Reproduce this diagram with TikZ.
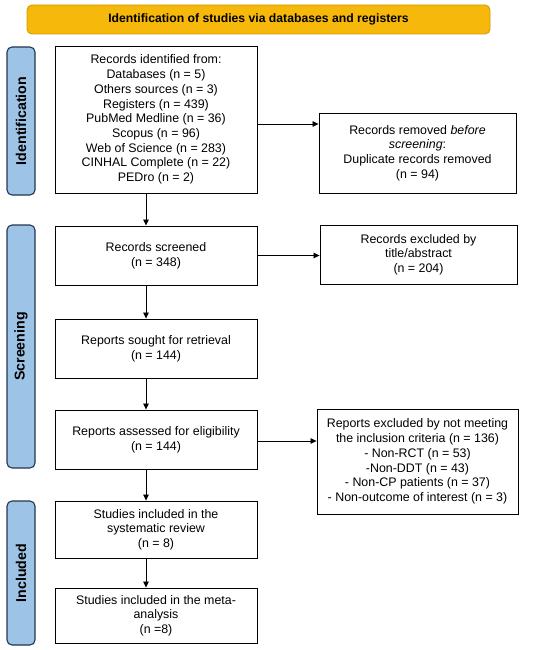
\documentclass[tikz,border=0pt]{standalone}
\usepackage{fontspec}
\setmainfont{Liberation Sans}
\usetikzlibrary{arrows.meta}
\definecolor{bannerfill}{HTML}{F6B80A}
\definecolor{bannerdraw}{HTML}{D29A00}
\definecolor{barfill}{HTML}{9DC3E6}
\definecolor{bardraw}{HTML}{22374F}
\tikzset{
  box/.style={draw, line width=0.9pt, align=center, inner sep=0pt,
    font=\fontsize{12.4}{14.7}\selectfont, minimum width=202pt},
  banner/.style={draw=bannerdraw, fill=bannerfill, line width=0.9pt, rounded corners=5pt,
    align=center, font=\bfseries\fontsize{12.2}{13}\selectfont, minimum width=463pt, minimum height=29pt},
  phase/.style={draw=bardraw, fill=barfill, line width=1.1pt, rounded corners=5pt,
    rotate=90, font=\bfseries\fontsize{14.2}{15}\selectfont, minimum height=28pt, inner sep=0pt},
  arr/.style={line width=0.8pt, -{Triangle[length=6pt,width=5.5pt]}}
}
\begin{document}
\begin{tikzpicture}[x=1pt,y=-1pt]
\useasboundingbox (0,0) rectangle (550,650);
\node[banner] (ban) at (258.5,19.5) {Identification of studies via databases and registers};
\node[phase, minimum width=148pt] (pid) at (21,121) {Identification};
\node[phase, minimum width=243pt] (psc) at (21,346.5) {Screening};
\node[phase, minimum width=144pt] (pin) at (21,573) {Included};

\node[box, minimum height=147pt] (b1) at (156,119.5) {Records identified from:\\Databases (n = 5)\\Others sources (n = 3)\\Registers (n = 439)\\PubMed Medline (n = 36)\\Scopus (n = 96)\\Web of Science (n = 283)\\CINHAL Complete (n = 22)\\PEDro (n = 2)};
\node[box, minimum width=197pt, minimum height=80pt] (b2) at (417.5,153) {Records removed \textit{before}\\\textit{screening}:\\Duplicate records removed\\(n = 94)};
\node[box, minimum height=59pt] (b3) at (156,255.5) {Records screened\\(n = 348)};
\node[box, minimum width=197pt, minimum height=59pt] (b4) at (418.5,254.5) {Records excluded by\\title/abstract\\(n = 204)};
\node[box, minimum height=59pt] (b5) at (156,348.5) {Reports sought for retrieval\\(n = 144)};
\node[box, minimum height=59pt] (b6) at (156,439.5) {Reports assessed for eligibility\\(n = 144)};
\node[box, minimum width=201pt, minimum height=105pt] (b7) at (417.5,461.5) {Reports excluded by not meeting\\the inclusion criteria (n = 136)\\- Non-RCT (n = 53)\\-Non-DDT (n = 43)\\- Non-CP patients (n = 37)\\- Non-outcome of interest (n = 3)};
\node[box, minimum height=57pt] (b8) at (156,529.5) {Studies included in the\\systematic review\\(n = 8)};
\node[box, minimum height=55pt] (b9) at (156,615.5) {Studies included in the meta-\\analysis\\(n =8)};

\draw[arr] ([yshift=-4.5pt]b1.east) -- ([yshift=-4.5pt]b1.east -| b2.west);
\draw[arr] (b3.east) -- (b3.east -| b4.west);
\draw[arr] ([yshift=-1.5pt]b6.east) -- ([yshift=-1.5pt]b6.east -| b7.west);
\draw[arr] ([xshift=-10pt]b1.south) -- ([xshift=-10pt]b3.north);
\draw[arr] ([xshift=-10pt]b3.south) -- ([xshift=-10pt]b5.north);
\draw[arr] ([xshift=-10pt]b5.south) -- ([xshift=-10pt]b6.north);
\draw[arr] ([xshift=-10pt]b6.south) -- ([xshift=-10pt]b8.north);
\draw[arr] ([xshift=-10pt]b8.south) -- ([xshift=-10pt]b9.north);
\end{tikzpicture}
\end{document}
